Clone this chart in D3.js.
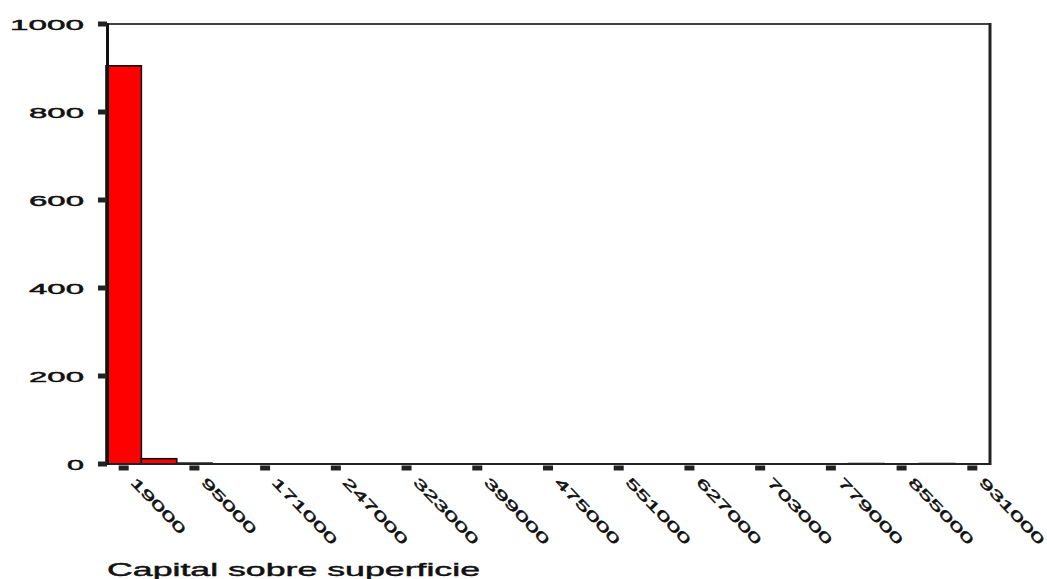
<!DOCTYPE html>
<html>
<head>
<meta charset="utf-8">
<script src="https://cdn.jsdelivr.net/npm/d3@7"></script>
<style>
  html, body { margin: 0; padding: 0; background: #fff; }
  svg { display: block; }
  text { font-family: "Liberation Sans", Arial, sans-serif; fill: #111; stroke: #111; stroke-width: 0.45px; }
</style>
</head>
<body>
<svg id="chart" width="1047" height="579"></svg>
<script>
// ---- data ----
const binWidth = 38000;
const binStarts = [0, 38000, 76000, 798000, 874000];   // lower edge of each non-empty bin
const binCounts = [905, 12, 2, 1, 1];                  // frequency per bin
const xTickValues = [19000, 95000, 171000, 247000, 323000, 399000, 475000, 551000, 627000, 703000, 779000, 855000, 931000];
const yTickValues = [0, 200, 400, 600, 800, 1000];
const xTitle = "Capital sobre superficie";

// ---- layout ----
const svg = d3.select("#chart");
const x = d3.scaleLinear().domain([0, 950000]).range([106, 990]);
const y = d3.scaleLinear().domain([0, 1000]).range([464, 24]);

const bars = binStarts.map((s, i) => ({ x0: s, x1: s + binWidth, v: binCounts[i] }));

// bars
svg.append("g").selectAll("rect").data(bars).join("rect")
  .attr("x", d => x(d.x0))
  .attr("y", d => y(d.v))
  .attr("width", d => x(d.x1) - x(d.x0))
  .attr("height", d => y(0) - y(d.v))
  .attr("fill", "#ff0000")
  .attr("stroke", "#111")
  .attr("stroke-width", 1.6);

// frame: top and right
svg.append("line").attr("x1", x(0)).attr("x2", x.range()[1]).attr("y1", y(1000)).attr("y2", y(1000))
  .attr("stroke", "#444").attr("stroke-width", 2);
svg.append("line").attr("x1", x.range()[1]).attr("x2", x.range()[1]).attr("y1", y(1000) - 1).attr("y2", y(0) + 1)
  .attr("stroke", "#222").attr("stroke-width", 3);

// bottom axis line
svg.append("line").attr("x1", 98).attr("x2", x.range()[1]).attr("y1", y(0)).attr("y2", y(0))
  .attr("stroke", "#222").attr("stroke-width", 2);
// left spine
svg.append("line").attr("x1", 107.5).attr("x2", 107.5).attr("y1", y(1000) - 1).attr("y2", y(0) + 1)
  .attr("stroke", "#111").attr("stroke-width", 3);

// y ticks & labels
const yg = svg.append("g");
yg.selectAll("rect").data(yTickValues).join("rect")
  .attr("x", 98).attr("y", d => y(d) - 2.5).attr("width", 9).attr("height", 5)
  .attr("fill", "#222");
yg.selectAll("text").data(yTickValues).join("text")
  .attr("x", 84).attr("y", d => y(d) + 6)
  .attr("text-anchor", "end")
  .attr("font-size", 15)
  .attr("textLength", d => String(d).length * 19 - 2)
  .attr("lengthAdjust", "spacingAndGlyphs")
  .text(d => d);

// x ticks & labels
const xg = svg.append("g");
xg.selectAll("rect").data(xTickValues).join("rect")
  .attr("x", d => x(d) - 5).attr("y", y(0) + 1.5).attr("width", 10).attr("height", 5)
  .attr("fill", "#222");
xg.selectAll("text").data(xTickValues).join("text")
  .attr("transform", d => `translate(${x(d) + 6},${483}) rotate(46)`)
  .attr("text-anchor", "start")
  .attr("font-size", 13.5)
  .attr("textLength", d => String(d).length * 14.5)
  .attr("lengthAdjust", "spacingAndGlyphs")
  .text(d => d);

// x title
svg.append("text")
  .attr("x", 107).attr("y", 576)
  .attr("font-size", 19)
  .attr("textLength", 373)
  .attr("lengthAdjust", "spacingAndGlyphs")
  .text(xTitle);
</script>
</body>
</html>
